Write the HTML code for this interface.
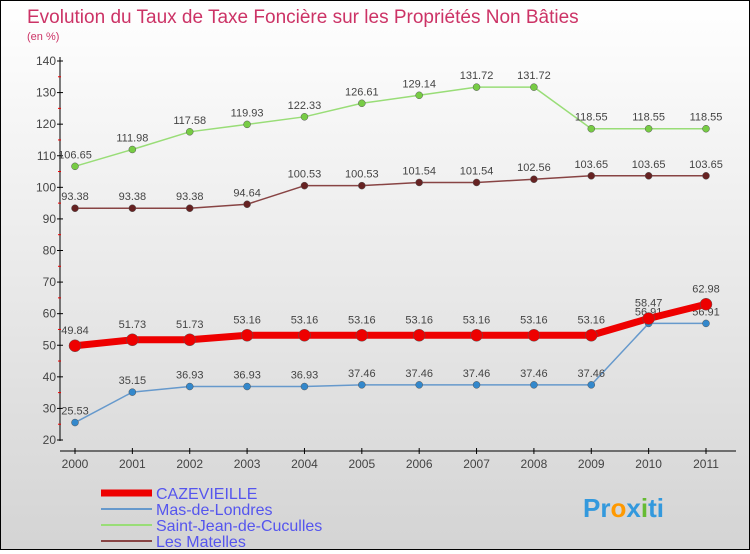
<!DOCTYPE html>
<html><head><meta charset="utf-8">
<style>
html,body{margin:0;padding:0}
body{width:750px;height:550px;overflow:hidden}
#wrap{position:relative;width:748px;height:548px;border:1px solid #000;background:linear-gradient(#ffffff,#d4d4d4)}
svg text{font-family:"Liberation Sans",sans-serif}
</style></head><body>
<div id="wrap">
<svg id="chart" width="748" height="548">
<text x="26" y="22" font-size="19" fill="#cc3366">Evolution du Taux de Taxe Foncière sur les Propriétés Non Bâties</text>
<text x="26" y="39" font-size="11" fill="#cc3366">(en %)</text>
<g id="axes"></g>
<g id="series"></g>
<g id="legend"></g>
<text x="582" y="516" font-size="26" font-weight="bold" fill="#3399dd">Pr<tspan fill="#ff9900">o</tspan>x<tspan fill="#66bb33">i</tspan>ti</text>
</svg></div>
<script>
const years=[2000,2001,2002,2003,2004,2005,2006,2007,2008,2009,2010,2011];
const yTicks=[20,30,40,50,60,70,80,90,100,110,120,130,140];
const cazevieille=[49.84,51.73,51.73,53.16,53.16,53.16,53.16,53.16,53.16,53.16,58.47,62.98];
const masDeLondres=[25.53,35.15,36.93,36.93,36.93,37.46,37.46,37.46,37.46,37.46,56.91,56.91];
const saintJean=[106.65,111.98,117.58,119.93,122.33,126.61,129.14,131.72,131.72,118.55,118.55,118.55];
const lesMatelles=[93.38,93.38,93.38,94.64,100.53,100.53,101.54,101.54,102.56,103.65,103.65,103.65];
const seriesNames=["CAZEVIEILLE","Mas-de-Londres","Saint-Jean-de-Cuculles","Les Matelles"];
const NS="http://www.w3.org/2000/svg";
function xs(i){return 74+i*(705-74)/11;}
function ys(v){return 439-(v-20)*(439-60)/120;}
function mk(t,a,p){const e=document.createElementNS(NS,t);for(const k in a)e.setAttribute(k,a[k]);p.appendChild(e);return e;}
const ax=document.getElementById('axes');
let l=mk('line',{x1:59,y1:56,x2:59,y2:440,stroke:'#000'},ax);

l=mk('line',{x1:59,y1:450,x2:735,y2:450,stroke:'#000'},ax);

yTicks.forEach((v,i)=>{
 const y=ys(v);
 mk('line',{x1:56,y1:y,x2:62,y2:y,stroke:'#000'},ax);
 if(i<yTicks.length-1)mk('line',{x1:57,y1:y-15.8,x2:60,y2:y-15.8,stroke:'#e00'},ax);
 const t=mk('text',{x:55,y:y+4,'font-size':12,fill:'#444','text-anchor':'end'},ax);t.textContent=v;
 
});
years.forEach((yr,i)=>{
 const x=xs(i);
 mk('line',{x1:x,y1:447,x2:x,y2:453,stroke:'#000'},ax);
 const t=mk('text',{x:x,y:467,'font-size':12,fill:'#444','text-anchor':'middle'},ax);t.textContent=yr;
 
});
const sg=document.getElementById('series');
function draw(vals,color,w,r,dot,name,labelDy){
 const g=mk('g',{},sg);
 const pts=vals.map((v,i)=>xs(i)+','+ys(v)).join(' ');
 mk('polyline',{points:pts,fill:'none',stroke:color,'stroke-width':w,'stroke-linejoin':'round'},g);
 vals.forEach((v,i)=>{
  const c=mk('circle',{cx:xs(i),cy:ys(v),r:r,fill:dot,stroke:'#555','stroke-width':0.5},g);
  
  const t=mk('text',{x:xs(i),y:ys(v)+labelDy,'font-size':11,fill:'#444','text-anchor':'middle'},g);
  t.textContent=v;
 });
}
draw(saintJean,'#99dd77',1.5,3.5,'#77cc44','saint-jean-series',-8);
draw(lesMatelles,'#884444',1.5,3.5,'#662222','les-matelles-series',-8);
draw(masDeLondres,'#6699cc',1.5,3.5,'#3388cc','mas-de-londres-series',-8);
draw(cazevieille,'#ee0000',7,6,'#ee0000','cazevieille-series',-12);
const lg=document.getElementById('legend');
const lcol=['#ee0000','#6699cc','#99dd77','#884444'],lw=[7,2,2,2];
seriesNames.forEach((n,i)=>{
 const y=492+i*16;
 const g=mk('g',{},lg);
 mk('line',{x1:100,y1:y,x2:151,y2:y,stroke:lcol[i],'stroke-width':lw[i]},g);
 const t=mk('text',{x:155,y:y+6,'font-size':16,fill:'#5555ee'},g);t.textContent=n;
});
</script>
</body></html>
